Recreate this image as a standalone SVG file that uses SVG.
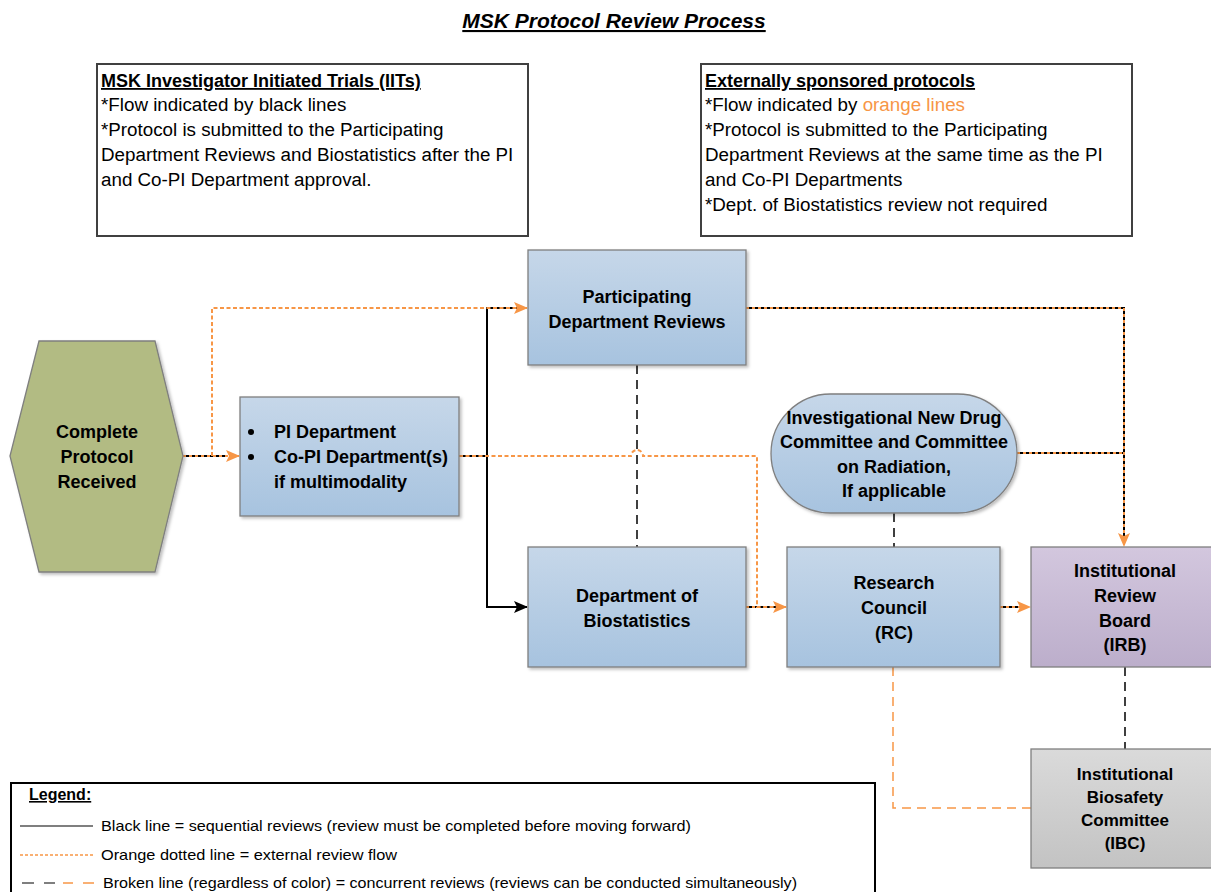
<svg xmlns="http://www.w3.org/2000/svg" width="1211" height="892" viewBox="0 0 1211 892">
<style>
text{font-family:"Liberation Sans",Arial,sans-serif;fill:#000}
.t{font-size:18.8px}
.b{font-size:18px;font-weight:bold}
.n{font-size:18px;font-weight:bold;text-anchor:middle}
.lg{font-size:14.5px}
.box{stroke:#7f7f7f;stroke-width:1.3}
.blk{fill:none;stroke:#000;stroke-width:2}
.or{fill:none;stroke:#f79646;stroke-width:2;stroke-dasharray:3 3}
.ord{fill:none;stroke:#f79646;stroke-width:2;stroke-dasharray:4 2.5}
.dash{fill:none;stroke:#000;stroke-width:1.5;stroke-dasharray:9 6}
.odash{fill:none;stroke:#f79646;stroke-width:1.5;stroke-dasharray:9 6}
</style>
<defs>
<linearGradient id="gb" x1="0" y1="0" x2="0" y2="1"><stop offset="0" stop-color="#c6d7e9"/><stop offset="1" stop-color="#a7c3df"/></linearGradient>
<linearGradient id="gp" x1="0" y1="0" x2="0" y2="1"><stop offset="0" stop-color="#d3c7de"/><stop offset="1" stop-color="#bcaecb"/></linearGradient>
<linearGradient id="gg" x1="0" y1="0" x2="0" y2="1"><stop offset="0" stop-color="#dadada"/><stop offset="1" stop-color="#c3c3c3"/></linearGradient>
<marker id="ao" markerWidth="14" markerHeight="12" refX="13" refY="6" orient="auto" markerUnits="userSpaceOnUse"><path d="M0,0 L14,6 L0,12 L3,6 Z" fill="#f79646"/></marker>
<marker id="ab" markerWidth="14" markerHeight="12" refX="13" refY="6" orient="auto" markerUnits="userSpaceOnUse"><path d="M0,0 L14,6 L0,12 L3,6 Z" fill="#000"/></marker>
<filter id="sh" x="-5%" y="-5%" width="115%" height="115%"><feDropShadow dx="2" dy="2" stdDeviation="1.5" flood-color="#000" flood-opacity="0.25"/></filter>
</defs>

<g id="title">
<text x="614" y="28" text-anchor="middle" style="font-size:21px;font-weight:bold;font-style:italic;text-decoration:underline">MSK Protocol Review Process</text>
</g>

<g id="note-iit">
<rect x="97" y="64" width="431" height="172" fill="#fff" stroke="#404040" stroke-width="2"/>
<text x="101" y="87" class="b" style="text-decoration:underline">MSK Investigator Initiated Trials (IITs)</text>
<text x="101" y="111" class="t">*Flow indicated by black lines</text>
<text x="101" y="136" class="t">*Protocol is submitted to the Participating</text>
<text x="101" y="161" class="t">Department Reviews and Biostatistics after the PI</text>
<text x="101" y="186" class="t">and Co-PI Department approval.</text>
</g>

<g id="note-ext">
<rect x="701" y="64" width="431" height="172" fill="#fff" stroke="#404040" stroke-width="2"/>
<text x="705" y="87" class="b" style="text-decoration:underline">Externally sponsored protocols</text>
<text x="705" y="111" class="t">*Flow indicated by <tspan style="fill:#f79646">orange lines</tspan></text>
<text x="705" y="136" class="t">*Protocol is submitted to the Participating</text>
<text x="705" y="161" class="t">Department Reviews at the same time as the PI</text>
<text x="705" y="186" class="t">and Co-PI Departments</text>
<text x="705" y="211" class="t">*Dept. of Biostatistics review not required</text>
</g>

<g id="connectors">
<line x1="637" y1="365" x2="637" y2="547" class="dash"/>
<line x1="894" y1="513" x2="894" y2="547" class="dash"/>
<line x1="1125" y1="667" x2="1125" y2="749" class="dash"/>
<path d="M893,667 V808 H1031" class="odash"/>
<line x1="183" y1="456" x2="228" y2="456" class="blk"/>
<line x1="459" y1="456" x2="487" y2="456" class="blk"/>
<path d="M518,308 H487 V607 H527" class="blk" marker-end="url(#ab)"/>
<line x1="746" y1="607" x2="777" y2="607" class="blk"/>
<line x1="1000" y1="607" x2="1021" y2="607" class="blk"/>
<path d="M746,308 H1124 V537" class="blk"/>
<line x1="1017" y1="453" x2="1124" y2="453" class="blk"/>
<line x1="183" y1="456" x2="239" y2="456" class="or" marker-end="url(#ao)"/>
<path d="M212,456 V308 H527" class="ord" marker-end="url(#ao)"/>
<path d="M459,456 H631 A6,6 0 0 1 643,456 H757 V607 H786" class="ord" marker-end="url(#ao)"/>
<line x1="746" y1="607" x2="757" y2="607" class="or"/>
<line x1="1000" y1="607" x2="1030" y2="607" class="or" marker-end="url(#ao)"/>
<path d="M746,308 H1124 V546" class="or" marker-end="url(#ao)"/>
<line x1="1017" y1="453" x2="1124" y2="453" class="or"/>
</g>

<g id="node-complete">
<polygon points="10,456 39,341 155,341 183,456 155,572 39,572" fill="#b2bb83" stroke="#7f7f7f" stroke-width="1.3" filter="url(#sh)"/>
<text x="97" y="438" class="n">Complete</text>
<text x="97" y="463" class="n">Protocol</text>
<text x="97" y="488" class="n">Received</text>
</g>

<g id="node-pi">
<rect x="240" y="397" width="219" height="119" fill="url(#gb)" class="box" filter="url(#sh)"/>
<circle cx="251" cy="432" r="3" fill="#000"/>
<circle cx="251" cy="457" r="3" fill="#000"/>
<text x="274" y="438" class="b">PI Department</text>
<text x="274" y="463" class="b">Co-PI Department(s)</text>
<text x="274" y="488" class="b">if multimodality</text>
</g>

<g id="node-participating">
<rect x="528" y="250" width="218" height="115" fill="url(#gb)" class="box" filter="url(#sh)"/>
<text x="637" y="303" class="n">Participating</text>
<text x="637" y="328" class="n">Department Reviews</text>
</g>

<g id="node-biostat">
<rect x="528" y="547" width="218" height="120" fill="url(#gb)" class="box" filter="url(#sh)"/>
<text x="637" y="602" class="n">Department of</text>
<text x="637" y="627" class="n">Biostatistics</text>
</g>

<g id="node-ind">
<rect x="771" y="394" width="246" height="119" rx="59.5" ry="59.5" fill="url(#gb)" class="box" filter="url(#sh)"/>
<text x="894" y="424" class="n">Investigational New Drug</text>
<text x="894" y="448" class="n">Committee and Committee</text>
<text x="894" y="473" class="n">on Radiation,</text>
<text x="894" y="497" class="n">If applicable</text>
</g>

<g id="node-rc">
<rect x="787" y="547" width="213" height="120" fill="url(#gb)" class="box" filter="url(#sh)"/>
<text x="894" y="589" class="n">Research</text>
<text x="894" y="614" class="n">Council</text>
<text x="894" y="639" class="n">(RC)</text>
</g>

<g id="node-irb">
<rect x="1031" y="547" width="182" height="120" fill="url(#gp)" class="box"/>
<text x="1125" y="577" class="n">Institutional</text>
<text x="1125" y="602" class="n">Review</text>
<text x="1125" y="627" class="n">Board</text>
<text x="1125" y="651" class="n">(IRB)</text>
</g>

<g id="node-ibc">
<rect x="1031" y="749" width="182" height="119" fill="url(#gg)" class="box"/>
<text x="1125" y="780" class="n" style="font-size:17px">Institutional</text>
<text x="1125" y="803" class="n" style="font-size:17px">Biosafety</text>
<text x="1125" y="826" class="n" style="font-size:17px">Committee</text>
<text x="1125" y="849" class="n" style="font-size:17px">(IBC)</text>
</g>

<g id="legend">
<rect x="11" y="783" width="864" height="120" fill="#fff" stroke="#000" stroke-width="2"/>
<text x="29" y="800" style="font-size:16px;font-weight:bold;text-decoration:underline">Legend:</text>
<line x1="20" y1="826" x2="93" y2="826" stroke="#555" stroke-width="1.5"/>
<text x="101" y="831" class="lg" textLength="590" lengthAdjust="spacingAndGlyphs">Black line = sequential reviews (review must be completed before moving forward)</text>
<line x1="20" y1="855" x2="93" y2="855" stroke="#f79646" stroke-width="1.5" stroke-dasharray="3 2"/>
<text x="101" y="860" class="lg" textLength="296" lengthAdjust="spacingAndGlyphs">Orange dotted line = external review flow</text>
<line x1="22" y1="883" x2="34" y2="883" stroke="#555" stroke-width="1.5"/>
<line x1="44" y1="883" x2="55" y2="883" stroke="#555" stroke-width="1.5"/>
<line x1="63" y1="883" x2="73" y2="883" stroke="#f79646" stroke-width="1.5"/>
<line x1="83" y1="883" x2="94" y2="883" stroke="#f79646" stroke-width="1.5"/>
<text x="103" y="888" class="lg" textLength="694" lengthAdjust="spacingAndGlyphs">Broken line (regardless of color) = concurrent reviews (reviews can be conducted simultaneously)</text>
</g>
</svg>
